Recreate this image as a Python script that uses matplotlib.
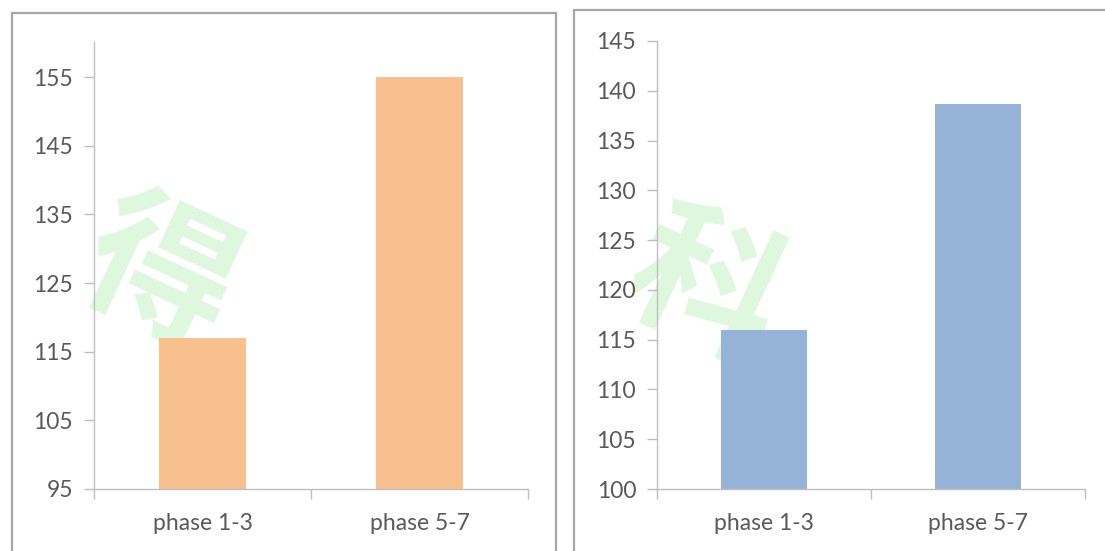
import matplotlib
matplotlib.use("Agg")
import matplotlib.pyplot as plt
from matplotlib.patches import Rectangle

# Data
categories = ["phase 1-3", "phase 5-7"]
left_values = [117, 155]
right_values = [116, 138.7]
left_ticks = [95, 105, 115, 125, 135, 145, 155]
right_ticks = [100, 105, 110, 115, 120, 125, 130, 135, 140, 145]

W, H = 1105, 551
fig = plt.figure(figsize=(W / 100, H / 100), dpi=100)
fig.patch.set_facecolor("white")

FONT = "Lato"
TXT = "#595959"
AXC = "#bfbfbf"


def px_axes(x0, y0, x1, y1):
    """Axes placed by pixel box (top-left origin)."""
    return fig.add_axes([x0 / W, 1 - y1 / H, (x1 - x0) / W, (y1 - y0) / H])


def panel_frame(x0, y0, x1, y1):
    fig.patches.append(Rectangle((x0 / W, 1 - y1 / H), (x1 - x0) / W, (y1 - y0) / H,
                                 transform=fig.transFigure, fill=False,
                                 edgecolor="#a6a6a6", linewidth=1.6, zorder=0))


# faint watermark characters, drawn beneath the axes
wm = [("得", 158, 278, -25), ("科", 705, 292, -25)]
for ch, x, y, rot in wm:
    fig.text(x / W, 1 - y / H, ch, fontsize=108, family="Noto Sans CJK SC",
             color="#7fe07f", alpha=0.25, rotation=rot, ha="center", va="center",
             fontweight="bold", zorder=-1)

panel_frame(12, 13, 556, 600)
panel_frame(574, 10, 1120, 600)


def bar_panel(ax, values, ticks, ylim, color):
    x = [0, 1]
    ax.bar(x, [v - ylim[0] for v in values], bottom=ylim[0], width=0.4,
           color=color, zorder=2)
    ax.set_xlim(-0.5, 1.5)
    ax.set_ylim(*ylim)
    ax.set_yticks(ticks)
    ax.set_yticklabels([str(t) for t in ticks], fontsize=16.5, color=TXT, family=FONT)
    ax.set_xticks([-0.5, 0.5, 1.5])
    ax.set_xticklabels([])
    ax.set_xticks(x, minor=True)
    ax.set_xticklabels(categories, minor=True, fontsize=16.5, color=TXT, family=FONT)
    ax.tick_params(axis="x", which="minor", length=0, pad=17)
    ax.tick_params(axis="x", which="major", length=7, color=AXC, width=1)
    ax.tick_params(axis="y", length=7, color=AXC, width=1, pad=8)
    for s in ["top", "right"]:
        ax.spines[s].set_visible(False)
    for s in ["left", "bottom"]:
        ax.spines[s].set_color(AXC)
        ax.spines[s].set_linewidth(1)
    ax.set_facecolor("none")


ax1 = px_axes(94, 42, 528, 489)
bar_panel(ax1, left_values, left_ticks, (95, 160.1), "#f9c08f")

ax2 = px_axes(657, 41, 1085, 489)
bar_panel(ax2, right_values, right_ticks, (100, 145), "#95b3d7")

fig.savefig("out.png", dpi=100, facecolor="white")
